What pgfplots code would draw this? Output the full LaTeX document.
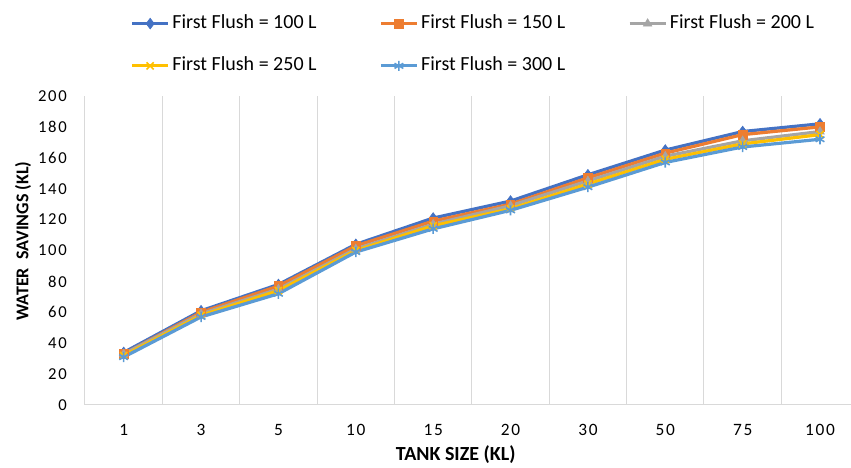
\documentclass[border=0pt]{standalone}
\usepackage{pgfplots}
\pgfplotsset{compat=1.18}
\usepackage{fontspec}
\setmainfont{Carlito}
\newfontfamily\tickfont[LetterSpace=10]{Carlito}
\definecolor{cA}{HTML}{4472C4}
\definecolor{cB}{HTML}{ED7D31}
\definecolor{cC}{HTML}{A5A5A5}
\definecolor{cD}{HTML}{FFC000}
\definecolor{cE}{HTML}{5B9BD5}
\definecolor{gridc}{HTML}{D9D9D9}
\begin{document}
\begin{tikzpicture}
\useasboundingbox (-63.75pt,-47.25pt) rectangle (574.5pt,303.75pt);
\begin{axis}[
  at={(0pt,0pt)}, anchor=south west,
  scale only axis, width=574.5pt, height=231.75pt,
  xmin=-0.5, xmax=9.4, ymin=0, ymax=200,
  /pgf/number format/assume math mode=true,
  xtick={0,...,9},
  xticklabels={1,3,5,10,15,20,30,50,75,100},
  ytick={0,20,...,200},
  minor xtick={0.5,1.5,...,8.5},
  xminorgrids,
  minor grid style={draw=gridc, line width=0.75pt},
  axis x line=bottom, axis y line=left,
  axis line style={-, draw=gridc, line width=0.75pt},
  major tick length=0pt, minor tick length=0pt,
  tick style={draw=none},
  clip=false,
  yticklabel style={font=\tickfont\fontsize{12.5}{14}\selectfont, inner sep=0pt, anchor=east},
  yticklabel shift=13.5pt,
  xticklabel style={font=\tickfont\fontsize{13}{15}\selectfont, inner sep=0pt, anchor=north},
  xticklabel shift=14pt,
  xlabel={\bfseries TANK SIZE (KL)},
  ylabel={\bfseries WATER\ \ SAVINGS (KL)},
  every axis x label/.style={at={(rel axis cs:0.484,0)}, yshift=-37.5pt, anchor=center, font=\fontsize{15}{18}\selectfont},
  every axis y label/.style={at={(rel axis cs:0,0.53)}, xshift=-46.5pt, rotate=90, anchor=center, font=\fontsize{13.5}{16}\selectfont},
  legend columns=3,
  legend style={at={(rel axis cs:0,1)}, anchor=north west, xshift=34pt, yshift=61pt,
    draw=none, fill=none, inner sep=0pt, font=\fontsize{15}{18}\selectfont,
    nodes={inner sep=0pt, text height=10pt, text depth=3pt},
    row sep=18.7pt,
    /tikz/every odd column/.append style={column sep=2pt},
    /tikz/every even column/.append style={column sep=47pt}},
  legend cell align=left,
  legend image code/.code={\draw[mark repeat=2, mark phase=2, #1] plot coordinates {(0pt,0pt)(13.5pt,0pt)(27pt,0pt)};},
  every axis plot/.append style={line width=2.4pt},
]
\addplot[cA, mark=diamond*, mark size=4pt, mark options={line width=0.5pt, fill=cA}] coordinates {(0,34) (1,61) (2,78) (3,104) (4,121) (5,132) (6,149) (7,165) (8,177) (9,182)};
\addlegendentry{First Flush = 100 L}
\addplot[cB, mark=square*, mark size=3.2pt, mark options={line width=0.5pt, fill=cB}] coordinates {(0,33) (1,60) (2,77) (3,103) (4,119) (5,130) (6,147) (7,163) (8,175) (9,180)};
\addlegendentry{First Flush = 150 L}
\addplot[cC, mark=triangle*, mark size=3.6pt, mark options={line width=0.5pt, fill=cC}] coordinates {(0,33) (1,59) (2,75) (3,101) (4,117) (5,129) (6,145) (7,161) (8,171) (9,177)};
\addlegendentry{First Flush = 200 L}
\addplot[cD, mark=x, mark size=3.8pt, mark options={line width=1.2pt}] coordinates {(0,32) (1,58) (2,74) (3,100) (4,116) (5,127) (6,143) (7,159) (8,169) (9,175)};
\addlegendentry{First Flush = 250 L}
\addplot[cE, mark=asterisk, mark size=3.8pt, mark options={line width=1.2pt}] coordinates {(0,31) (1,57) (2,72) (3,99) (4,114) (5,126) (6,141) (7,157) (8,167) (9,172)};
\addlegendentry{First Flush = 300 L}
\end{axis}
\end{tikzpicture}
\end{document}
